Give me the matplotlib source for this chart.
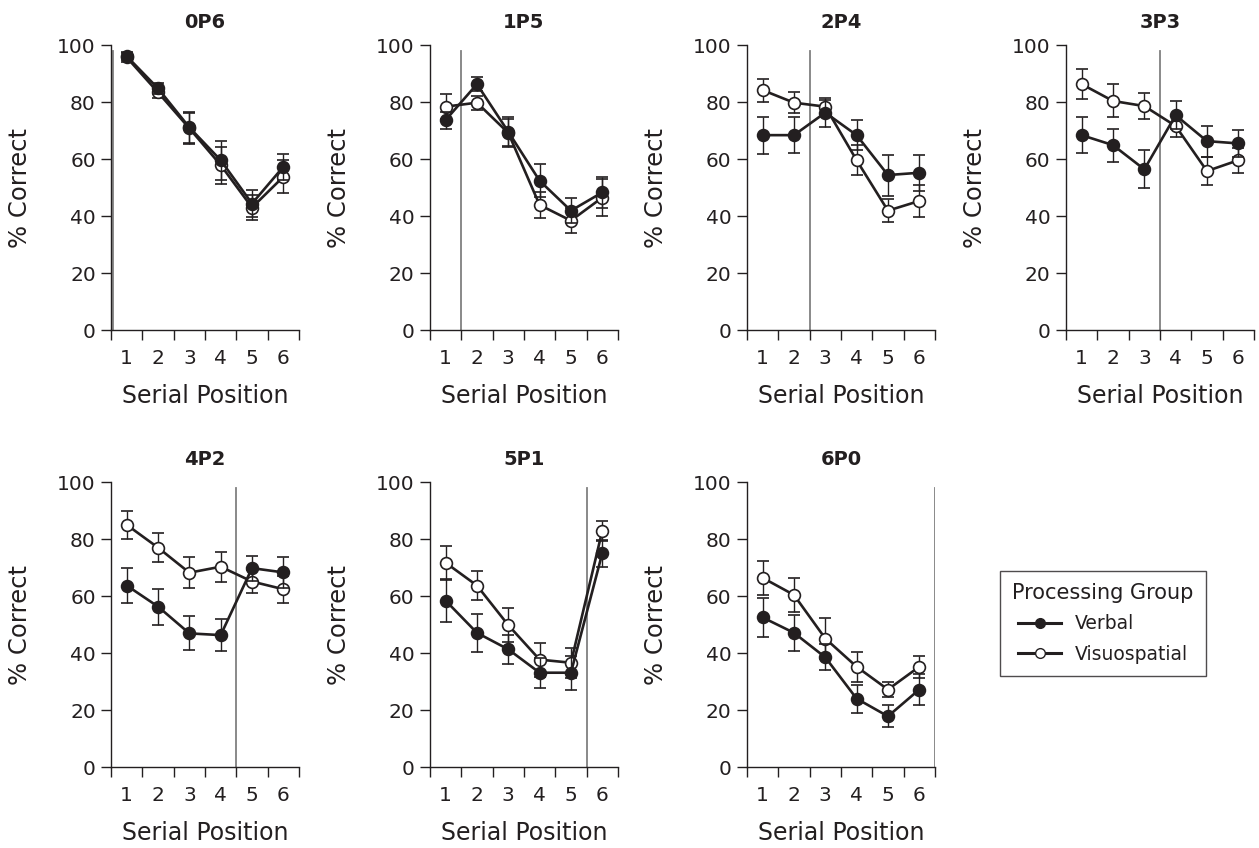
"""Serial position curves for the seven verbal/visuospatial processing splits."""

import matplotlib
matplotlib.use("Agg")
import matplotlib.pyplot as plt
from matplotlib.lines import Line2D

INK = "#231f20"
DIVIDER = "#808080"

CONDITIONS = ["0P6", "1P5", "2P4", "3P3", "4P2", "5P1", "6P0"]
SPLIT_AT = [0, 1, 2, 3, 4, 5, 6]
POSITION_LABELS = ["1", "2", "3", "4", "5", "6"]

VERBAL_MEAN = [
    [96.1, 84.8, 71.1, 59.6, 44.4, 57.3],
    [73.7, 86.3, 69.6, 52.4, 41.9, 48.3],
    [68.4, 68.4, 76.3, 68.4, 54.4, 55.2],
    [68.4, 64.9, 56.4, 75.4, 66.3, 65.5],
    [63.7, 56.3, 46.9, 46.3, 69.8, 68.3],
    [58.4, 47.1, 41.3, 33.1, 33.1, 75.0],
    [52.5, 47.1, 38.5, 24.0, 17.8, 27.2],
]
VERBAL_SE = [
    [1.5, 2.0, 5.5, 6.8, 4.8, 4.5],
    [3.0, 2.5, 5.0, 5.8, 4.4, 5.5],
    [6.5, 6.3, 5.0, 5.3, 7.2, 6.4],
    [6.2, 5.8, 6.7, 5.0, 5.4, 4.8],
    [6.3, 6.3, 6.0, 5.5, 4.4, 5.4],
    [7.6, 6.6, 5.2, 5.3, 5.9, 4.7],
    [6.8, 6.3, 4.5, 4.9, 3.9, 5.3],
]
VISUO_MEAN = [
    [95.7, 83.4, 70.8, 57.9, 43.0, 53.8],
    [78.4, 79.8, 69.2, 43.9, 38.4, 46.5],
    [84.2, 79.8, 78.4, 59.6, 41.9, 45.3],
    [86.3, 80.4, 78.6, 71.6, 55.8, 59.6],
    [85.0, 77.0, 68.2, 70.3, 65.1, 62.4],
    [71.7, 63.7, 49.8, 37.7, 36.6, 82.9],
    [66.4, 60.4, 45.1, 35.2, 27.2, 35.2],
]
VISUO_SE = [
    [1.5, 2.0, 5.5, 6.5, 4.5, 5.8],
    [4.4, 2.5, 5.0, 4.7, 4.5, 6.5],
    [4.0, 3.8, 2.5, 5.2, 4.0, 5.5],
    [5.3, 5.8, 4.7, 4.0, 5.0, 4.4],
    [4.8, 5.0, 5.5, 5.2, 4.0, 4.7],
    [5.9, 5.2, 5.9, 6.0, 5.3, 3.5],
    [5.9, 6.0, 7.3, 5.2, 2.5, 3.8],
]

AXES_LEFT = [0.0882, 0.3415, 0.5933, 0.8467, 0.0882, 0.3415, 0.5933]
AXES_BOTTOM = [0.6108, 0.6108, 0.6108, 0.6108, 0.0955, 0.0955, 0.0955]
AXES_WIDTH = 0.1493
AXES_HEIGHT = 0.336


def draw_panel(ax, idx):
    x = [i + 0.5 for i in range(len(POSITION_LABELS))]
    style = dict(color=INK, linewidth=1.9, markersize=8.5, elinewidth=1.0,
                 capsize=4, capthick=1.0, markeredgewidth=1.2,
                 markeredgecolor=INK)
    ax.errorbar(x, VISUO_MEAN[idx], yerr=VISUO_SE[idx], fmt="-o",
                markerfacecolor="white", zorder=3, **style)
    ax.errorbar(x, VERBAL_MEAN[idx], yerr=VERBAL_SE[idx], fmt="-o",
                markerfacecolor=INK, zorder=4, **style)

    split = SPLIT_AT[idx]
    if split == 0:
        split = 0.07  # keep the divider visible next to the y spine
    ax.plot([split, split], [0, 97.8], color=DIVIDER, linewidth=1.3, zorder=2)

    ax.set_xlim(0, 6)
    ax.set_ylim(0, 100)
    ax.set_xticks(x)
    ax.set_xticklabels(POSITION_LABELS)
    ax.set_xticks(range(7), minor=True)
    ax.set_yticks([0, 20, 40, 60, 80, 100])
    ax.tick_params(axis="x", which="major", length=0, pad=14,
                   labelsize=14.5, labelcolor=INK)
    ax.tick_params(axis="x", which="minor", length=7, width=1.0,
                   direction="out", color=INK)
    ax.tick_params(axis="y", length=7, width=1.0, direction="out",
                   color=INK, labelsize=14.5, labelcolor=INK, pad=4)
    for side in ("top", "right"):
        ax.spines[side].set_visible(False)
    for side in ("left", "bottom"):
        ax.spines[side].set_color(INK)
        ax.spines[side].set_linewidth(1.0)
    ax.spines["left"].set_zorder(5)

    ax.set_title(CONDITIONS[idx], fontsize=14, fontweight="bold",
                 color=INK, pad=12)
    ax.set_xlabel("Serial Position", fontsize=17, color=INK, labelpad=11)
    ax.set_ylabel("% Correct", fontsize=17.5, color=INK, labelpad=18)


def main():
    fig = plt.figure(figsize=(12.59, 8.48), dpi=100)
    for idx in range(len(CONDITIONS)):
        ax = fig.add_axes([AXES_LEFT[idx], AXES_BOTTOM[idx],
                           AXES_WIDTH, AXES_HEIGHT])
        draw_panel(ax, idx)

    handles = [
        Line2D([], [], color=INK, linewidth=2.2, marker="o", markersize=7,
               markerfacecolor=INK, markeredgecolor=INK),
        Line2D([], [], color=INK, linewidth=2.2, marker="o", markersize=7,
               markerfacecolor="white", markeredgecolor=INK),
    ]
    leg = fig.legend(handles, ["Verbal", "Visuospatial"],
                     title="Processing Group", title_fontsize=15,
                     fontsize=13.5, loc="upper left",
                     bbox_to_anchor=(1000 / 1259, 1 - 571 / 848),
                     frameon=True, fancybox=False, handlelength=2.3,
                     borderpad=0.65, labelspacing=0.6, handletextpad=0.7,
                     borderaxespad=0)
    leg.get_frame().set_edgecolor(INK)
    leg.get_frame().set_linewidth(1.0)
    for text in leg.get_texts():
        text.set_color(INK)
    leg.get_title().set_color(INK)

    fig.savefig("out.png", dpi=100)
    plt.close(fig)


if __name__ == "__main__":
    main()
